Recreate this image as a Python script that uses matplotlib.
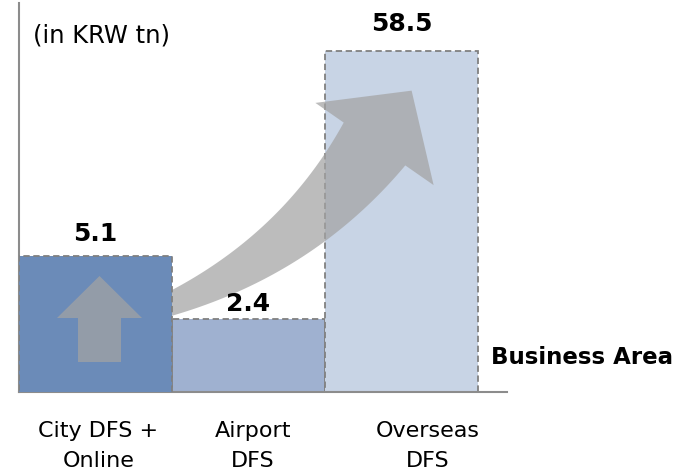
import numpy as np
import matplotlib
matplotlib.use('Agg')
import matplotlib.pyplot as plt
from matplotlib.patches import Polygon

categories = ['City DFS +\nOnline', 'Airport\nDFS', 'Overseas\nDFS']
values = [5.1, 2.4, 58.5]
bar_colors = ['#6b8bb8', '#9fb1d0', '#c8d4e5']

W, H = 693, 475


def to_fig(pts):
    # pixel coords (origin top-left) -> figure fraction
    pts = np.asarray(pts, dtype=float)
    return np.column_stack([pts[:, 0] / W, 1 - pts[:, 1] / H])


fig = plt.figure(figsize=(W / 100, H / 100), dpi=100)
ax = fig.add_axes([19 / W, 1 - 392 / H, (507 - 19) / W, (392 - 3) / H])

x = np.arange(len(values))
bars = ax.bar(x, values, width=1.0, align='edge', color=bar_colors,
              edgecolor='#808080', linewidth=1.3, linestyle=(0, (3.5, 2)),
              zorder=2)
bars[0].set_zorder(4)

ax.set_yscale('log')
ax.set_ylim(1, 104)
ax.set_xlim(0, 488 / 153)

for side in ['top', 'right']:
    ax.spines[side].set_visible(False)
for side in ['left', 'bottom']:
    ax.spines[side].set_color('#8c8c8c')
    ax.spines[side].set_linewidth(1.5)
ax.tick_params(which='both', left=False, labelleft=False,
               bottom=False, labelbottom=False)

# value labels on top of each bar
label_pad = [7, 2, 11]
for xi, v, pad in zip(x, values, label_pad):
    ax.annotate(f'{v}', (xi + 0.5, v), xytext=(0, pad), textcoords='offset points',
                ha='center', va='bottom', fontsize=18, fontweight='bold', zorder=6)

# category labels under the axis
label_x = [0.52, 1.53, 2.67]
for lx, name in zip(label_x, categories):
    ax.text(lx, -0.075, name, transform=ax.get_xaxis_transform(),
            ha='center', va='top', fontsize=16, linespacing=1.6)

fig.text(33 / W, 1 - 36 / H, '(in KRW tn)', ha='left', va='center', fontsize=17.5)
fig.text(491 / W, 1 - 358 / H, 'Business Area', ha='left', va='center',
         fontsize=16.5, fontweight='bold')

# curved growth arrow: quadratic bezier spine with widening body
p0 = np.array([168.0, 305.0])
p1 = np.array([298.0, 254.0])
p2 = np.array([374.5, 144.0])
t = np.linspace(0, 1, 80)[:, None]
c = (1 - t) ** 2 * p0 + 2 * t * (1 - t) * p1 + t ** 2 * p2
d = 2 * (1 - t) * (p1 - p0) + 2 * t * (p2 - p1)
d = d / np.linalg.norm(d, axis=1)[:, None]
n = np.column_stack([d[:, 1], -d[:, 0]])
w = (23 + (75 - 23) * t[:, 0]) / 2
left = c + n * w[:, None]
right = c - n * w[:, None]
tip = p2 + d[-1] * 65
barb_l = p2 + n[-1] * 72
barb_r = p2 - n[-1] * 72
curve = np.vstack([left, barb_l, tip, barb_r, right[::-1]])
ax.add_patch(Polygon(to_fig(curve), closed=True, transform=fig.transFigure,
                     facecolor='#a3a3a3', edgecolor='none', alpha=0.72, zorder=3))

# small up arrow inside the first bar
up = [(78, 362), (78, 318), (57, 318), (99.5, 276), (142, 318), (121, 318), (121, 362)]
ax.add_patch(Polygon(to_fig(up), closed=True, transform=fig.transFigure,
                     facecolor='#a3a3a3', edgecolor='none', alpha=0.72, zorder=5))

fig.savefig('out.png', dpi=100)
